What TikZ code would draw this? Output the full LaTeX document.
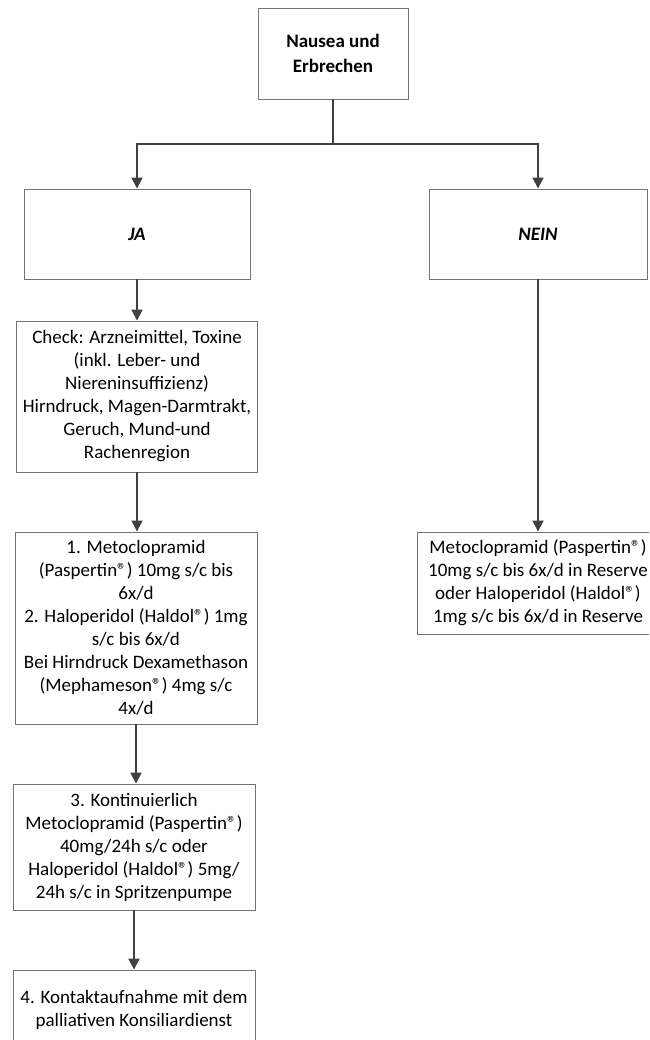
\documentclass[tikz,border=0pt]{standalone}
\usepackage{fontspec}
\setmainfont{Carlito}
\usetikzlibrary{arrows.meta}
\tikzset{
  box/.style={draw=black!55, line width=0.9pt, rectangle, inner sep=0pt, align=center,
    text=black, font=\fontsize{19}{23}\selectfont},
  conn/.style={draw=black!75, line width=1.8pt},
  arr/.style={conn, -{Triangle[length=11pt,width=11pt]}},
}
\begin{document}
\begin{tikzpicture}[x=1pt,y=-1pt]
\useasboundingbox (0,0) rectangle (649,1040);
\clip (0,0) rectangle (649,1040);
\node[box, minimum width=150pt, minimum height=91pt, font=\fontsize{19}{25}\selectfont\bfseries] (top) at (333,53.5) {Nausea und\\Erbrechen};
\node[box, minimum width=226pt, minimum height=90pt, font=\fontsize{19}{23}\selectfont\bfseries\itshape] (ja) at (137,234) {JA};
\node[box, minimum width=218pt, minimum height=90pt, font=\fontsize{19}{23}\selectfont\bfseries\itshape] (nein) at (538,234) {NEIN};
\node[box, minimum width=241pt, minimum height=151pt] (check) at (137,396.5) {Check: Arzneimittel, Toxine\\(inkl. Leber- und\\Niereninsuffizienz)\\Hirndruck, Magen-Darmtrakt,\\Geruch, Mund-und\\Rachenregion};
\node[box, minimum width=242pt, minimum height=192pt] (m1) at (136,628) {1. Metoclopramid\\(Paspertin®) 10mg s/c bis\\6x/d\\2. Haloperidol (Haldol®) 1mg\\s/c bis 6x/d\\Bei Hirndruck Dexamethason\\(Mephameson®) 4mg s/c\\4x/d};
\node[box, minimum width=242pt, minimum height=126pt] (m3) at (134,847) {3. Kontinuierlich\\Metoclopramid (Paspertin®)\\40mg/24h s/c oder\\Haloperidol (Haldol®) 5mg/\\24h s/c in Spritzenpumpe};
\node[box, minimum width=242pt, minimum height=80pt] (m4) at (134,1010) {4. Kontaktaufnahme mit dem\\palliativen Konsiliardienst};
\node[box, minimum width=242pt, minimum height=102pt] (nr) at (538,583) {Metoclopramid (Paspertin®)\\10mg s/c bis 6x/d in Reserve\\oder Haloperidol (Haldol®)\\1mg s/c bis 6x/d in Reserve};
\coordinate (split) at (333,144);
\draw[conn] (top.south) -- (split);
\draw[arr] (split) -| (ja.north);
\draw[arr] (split) -| (nein.north);
\draw[arr] (ja.south) -- (ja.south |- check.north);
\draw[arr] (check.south) -- (check.south |- m1.north);
\draw[arr] (m1.south) -- (m1.south |- m3.north);
\draw[arr] (m3.south) -- (m3.south |- m4.north);
\draw[arr] (nein.south) -- (nein.south |- nr.north);
\end{tikzpicture}
\end{document}
